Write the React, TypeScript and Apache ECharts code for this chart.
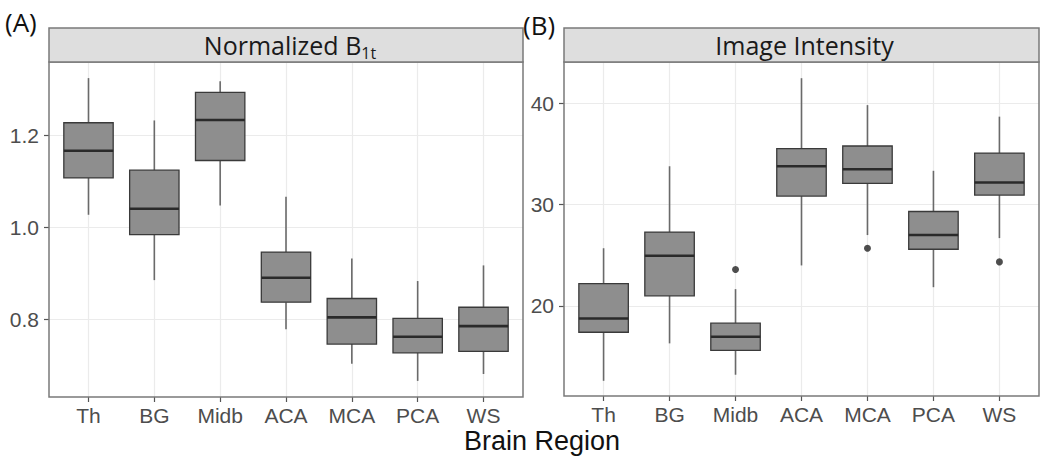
import React, { useEffect, useRef } from "react";
import * as echarts from "echarts";

const categories = ["Th", "BG", "Midb", "ACA", "MCA", "PCA", "WS"];
// [min, Q1, median, Q3, max]
const b1tBoxes = [
  [1.027, 1.107, 1.166, 1.227, 1.324],
  [0.885, 0.984, 1.04, 1.124, 1.232],
  [1.047, 1.145, 1.233, 1.293, 1.317],
  [0.778, 0.837, 0.89, 0.946, 1.066],
  [0.703, 0.746, 0.804, 0.845, 0.932],
  [0.666, 0.727, 0.762, 0.802, 0.883],
  [0.681, 0.73, 0.785, 0.826, 0.917],
];
const intensityBoxes = [
  [12.6, 17.4, 18.75, 22.2, 25.7],
  [16.3, 21.0, 24.95, 27.3, 33.8],
  [13.2, 15.6, 16.95, 18.3, 21.66],
  [24.0, 30.85, 33.8, 35.55, 42.5],
  [27.0, 32.1, 33.5, 35.8, 39.84],
  [21.85, 25.6, 27.0, 29.33, 33.35],
  [26.7, 30.95, 32.2, 35.1, 38.7],
];
// [category index (1-based), value]
const intensityOutliers = [
  [3, 23.6],
  [5, 25.7],
  [7, 24.35],
];
const b1tTicks = [0.8, 1.0, 1.2];
const intensityTicks = [20, 30, 40];
const panelTitles = ["Normalized B", "Image Intensity"];
const panelTags = ["(A)", "(B)"];
const xTitle = "Brain Region";

const tickFont = "Liberation Sans, Arial, sans-serif";
const titleFont = "Open Sans, Noto Sans, sans-serif";

function renderBox(params: any, api: any) {
  const x = api.value(0);
  const pMin = api.coord([x, api.value(1)]);
  const pQ1 = api.coord([x, api.value(2)]);
  const pMed = api.coord([x, api.value(3)]);
  const pQ3 = api.coord([x, api.value(4)]);
  const pMax = api.coord([x, api.value(5)]);
  const w = api.size([0.75, 0])[0];
  const cx = pMed[0];
  const whisker = { stroke: "#6a6a6a", lineWidth: 1.6 };
  return {
    type: "group",
    children: [
      { type: "line", shape: { x1: cx, y1: pQ3[1], x2: cx, y2: pMax[1] }, style: whisker },
      { type: "line", shape: { x1: cx, y1: pQ1[1], x2: cx, y2: pMin[1] }, style: whisker },
      {
        type: "rect",
        shape: { x: cx - w / 2, y: pQ3[1], width: w, height: pQ1[1] - pQ3[1] },
        style: { fill: "#8e8e8e", stroke: "#3a3a3a", lineWidth: 1.3 },
      },
      {
        type: "line",
        shape: { x1: cx - w / 2, y1: pMed[1], x2: cx + w / 2, y2: pMed[1] },
        style: { stroke: "#2a2a2a", lineWidth: 2.6 },
      },
    ],
  };
}

function xAxisFor(gridIndex: number) {
  const ticks = categories.map((_, i) => i + 1);
  return {
    type: "value",
    gridIndex,
    min: 0.4,
    max: 7.6,
    axisLine: { show: false },
    axisTick: { show: true, customValues: ticks, length: 5, lineStyle: { color: "#555", width: 1.2 } },
    axisLabel: {
      customValues: ticks,
      margin: 8,
      fontSize: 21,
      fontFamily: tickFont,
      color: "#4d4d4d",
      formatter: (v: number) => categories[Math.round(v) - 1] ?? "",
    },
    splitLine: { show: true, lineStyle: { color: "#ebebeb", width: 1.2 } },
  };
}

function yAxisFor(gridIndex: number, min: number, max: number, ticks: number[], fmt: (v: number) => string) {
  return {
    type: "value",
    gridIndex,
    min,
    max,
    axisLine: { show: false },
    axisTick: { show: true, customValues: ticks, length: 5, lineStyle: { color: "#555", width: 1.2 } },
    axisLabel: {
      customValues: ticks,
      margin: 10,
      fontSize: 21,
      fontFamily: tickFont,
      color: "#4d4d4d",
      formatter: fmt,
    },
    splitLine: { show: true, lineStyle: { color: "#ebebeb", width: 1.2 } },
  };
}

export default function App() {
  const ref = useRef<HTMLDivElement>(null);
  useEffect(() => {
    if (!ref.current) return;
    const chart = echarts.init(ref.current, null, { renderer: "svg" });
    const grids = [
      { left: 49, top: 62, width: 474, height: 335 },
      { left: 564, top: 62, width: 475, height: 334 },
    ];
    const stripH = 34;
    const graphic: any[] = [];
    grids.forEach((g) => {
      graphic.push({
        type: "rect",
        shape: { x: g.left, y: g.top - stripH, width: g.width, height: stripH },
        style: { fill: "#dedede", stroke: "#7a7a7a", lineWidth: 1.5 },
        z: 10,
      });
    });
    graphic.push({
      type: "text",
      x: grids[0].left + grids[0].width / 2 + 4,
      y: grids[0].top - stripH / 2,
      style: {
        text: "{n|" + panelTitles[0] + "}{s|1t}",
        align: "center",
        verticalAlign: "middle",
        rich: {
          n: { fontSize: 25, fontFamily: titleFont, fill: "#1a1a1a", lineHeight: 32 },
          s: { fontSize: 16, fontFamily: titleFont, fill: "#1a1a1a", lineHeight: 32, verticalAlign: "bottom" },
        },
      },
      z: 11,
    });
    graphic.push({
      type: "text",
      x: grids[1].left + grids[1].width / 2 + 3,
      y: grids[1].top - stripH / 2,
      style: {
        text: panelTitles[1],
        align: "center",
        verticalAlign: "middle",
        fontSize: 25,
        fontFamily: titleFont,
        fill: "#1a1a1a",
      },
      z: 11,
    });
    graphic.push({
      type: "text",
      x: 5,
      y: 22,
      style: { text: panelTags[0], fontSize: 26, fontFamily: titleFont, fill: "#111", verticalAlign: "middle" },
      z: 11,
    });
    graphic.push({
      type: "text",
      x: 523,
      y: 25,
      style: { text: panelTags[1], fontSize: 26, fontFamily: titleFont, fill: "#111", verticalAlign: "middle" },
      z: 11,
    });
    graphic.push({
      type: "text",
      x: 542,
      y: 441,
      style: {
        text: xTitle,
        align: "center",
        verticalAlign: "middle",
        fontSize: 27,
        fontFamily: tickFont,
        fill: "#111",
      },
      z: 11,
    });

    chart.setOption({
      animation: false,
      backgroundColor: "#ffffff",
      grid: grids.map((g) => ({ ...g, show: true, borderColor: "#7a7a7a", borderWidth: 1.5, backgroundColor: "transparent", z: 5 })),
      xAxis: [xAxisFor(0), xAxisFor(1)],
      yAxis: [
        yAxisFor(0, 0.631, 1.359, b1tTicks, (v: number) => v.toFixed(1)),
        yAxisFor(1, 11.1, 44.1, intensityTicks, (v: number) => String(Math.round(v))),
      ],
      graphic,
      series: [
        {
          type: "custom",
          xAxisIndex: 0,
          yAxisIndex: 0,
          renderItem: renderBox,
          encode: { x: 0, y: [1, 2, 3, 4, 5] },
          data: b1tBoxes.map((b, i) => [i + 1, ...b]),
          z: 3,
        },
        {
          type: "custom",
          xAxisIndex: 1,
          yAxisIndex: 1,
          renderItem: renderBox,
          encode: { x: 0, y: [1, 2, 3, 4, 5] },
          data: intensityBoxes.map((b, i) => [i + 1, ...b]),
          z: 3,
        },
        {
          type: "scatter",
          xAxisIndex: 1,
          yAxisIndex: 1,
          symbol: "circle",
          symbolSize: 7,
          itemStyle: { color: "#222" },
          data: intensityOutliers,
          z: 4,
        },
      ],
    });
    return () => chart.dispose();
  }, []);
  return (
    <div
      ref={ref}
      style={{ position: "absolute", left: 0, top: 0, width: 1050, height: 465, background: "#fff" }}
    />
  );
}
